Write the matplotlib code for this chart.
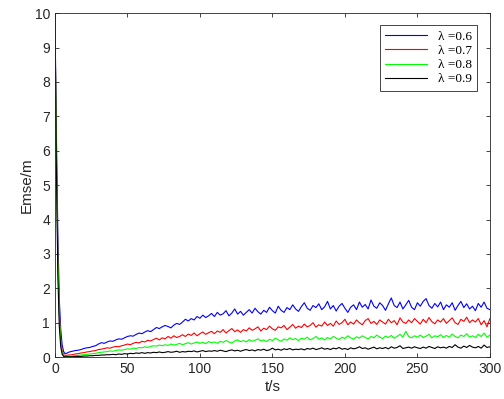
import numpy as np
import matplotlib
matplotlib.use('Agg')
import matplotlib.pyplot as plt

# time grid: 1 s steps for the first 10 s, then 2 s steps up to 300 s
t = np.concatenate([np.arange(0, 10), np.arange(10, 301, 2)])

lam_labels = ['λ =0.6', 'λ =0.7', 'λ =0.8', 'λ =0.9']

err_06 = [
    10, 6.5, 3.6, 1.7, 0.8, 0.35, 0.16, 0.10, 0.11, 0.13,
    0.15, 0.17, 0.19, 0.20, 0.22, 0.25, 0.27, 0.28, 0.31, 0.33,
    0.38, 0.42, 0.40, 0.44, 0.47, 0.46, 0.50, 0.53, 0.52, 0.56,
    0.60, 0.62, 0.61, 0.66, 0.70, 0.68, 0.73, 0.77, 0.74, 0.80,
    0.86, 0.83, 0.88, 0.92, 0.89, 0.85, 0.93, 0.98, 0.95, 1.02,
    1.10, 1.05, 1.12, 1.08, 1.18, 1.13, 1.22, 1.15, 1.20, 1.27,
    1.18, 1.30, 1.22, 1.26, 1.35, 1.20, 1.28, 1.40, 1.25, 1.33,
    1.22, 1.30, 1.38, 1.28, 1.42, 1.32, 1.25, 1.36, 1.30, 1.45,
    1.35, 1.28, 1.48, 1.36, 1.30, 1.44, 1.38, 1.52, 1.40, 1.33,
    1.47, 1.58, 1.42, 1.36, 1.50, 1.44, 1.55, 1.38, 1.46, 1.62,
    1.40, 1.50, 1.34, 1.48, 1.56, 1.42, 1.30, 1.45, 1.52, 1.38,
    1.60, 1.45, 1.53, 1.40, 1.66, 1.48, 1.42, 1.58, 1.50, 1.36,
    1.55, 1.72, 1.50, 1.44, 1.60, 1.40, 1.52, 1.65, 1.45, 1.38,
    1.58, 1.48, 1.62, 1.70, 1.50, 1.42, 1.56, 1.46, 1.60, 1.38,
    1.52, 1.45, 1.58, 1.36, 1.50, 1.62, 1.44, 1.55, 1.40, 1.48,
    1.35, 1.56, 1.45, 1.60, 1.42, 1.38,
]

err_07 = [
    10, 6.0, 3.0, 1.3, 0.5, 0.18, 0.07, 0.05, 0.05, 0.06,
    0.06, 0.07, 0.09, 0.10, 0.12, 0.13, 0.15, 0.16, 0.18, 0.19,
    0.22, 0.23, 0.25, 0.27, 0.26, 0.29, 0.31, 0.30, 0.33, 0.35,
    0.38, 0.36, 0.40, 0.43, 0.41, 0.46, 0.44, 0.49, 0.47, 0.51,
    0.55, 0.50, 0.56, 0.53, 0.60, 0.55, 0.62, 0.57, 0.60, 0.65,
    0.60, 0.67, 0.63, 0.70, 0.62, 0.68, 0.73, 0.66, 0.71, 0.75,
    0.68, 0.76, 0.72, 0.80, 0.70, 0.77, 0.83, 0.74, 0.79, 0.72,
    0.80, 0.76, 0.85, 0.78, 0.82, 0.88, 0.76, 0.84, 0.80, 0.90,
    0.82, 0.78, 0.88, 0.85, 0.92, 0.80, 0.87, 0.95, 0.84, 0.90,
    0.86, 0.96, 0.88, 0.92, 1.00, 0.87, 0.94, 0.90, 1.02, 0.92,
    0.98, 0.90, 1.05, 0.95, 1.00, 1.10, 0.94, 1.02, 0.96, 1.08,
    1.00, 0.94, 1.06, 1.12, 0.98, 1.04, 0.95, 1.08, 1.02, 0.96,
    1.10, 1.00, 1.06, 0.94, 1.14, 1.02, 0.98, 1.08, 1.00, 1.12,
    1.04, 0.96, 1.10, 1.00, 1.15, 1.03, 0.97, 1.08, 1.02, 1.12,
    0.98, 1.06, 1.14, 1.00, 0.95, 1.10, 1.04, 1.16, 1.00, 1.08,
    1.02, 1.12, 0.94, 1.06, 0.88, 1.12,
]

err_08 = [
    10, 5.8, 2.8, 1.2, 0.4, 0.12, 0.04, 0.02, 0.02, 0.02,
    0.02, 0.03, 0.04, 0.05, 0.06, 0.07, 0.08, 0.09, 0.10, 0.11,
    0.13, 0.14, 0.15, 0.16, 0.18, 0.17, 0.19, 0.21, 0.20, 0.22,
    0.24, 0.23, 0.26, 0.25, 0.28, 0.27, 0.30, 0.28, 0.31, 0.33,
    0.32, 0.35, 0.33, 0.36, 0.34, 0.38, 0.35, 0.37, 0.40, 0.36,
    0.39, 0.42, 0.38, 0.41, 0.44, 0.40, 0.43, 0.39, 0.45, 0.42,
    0.44, 0.40, 0.46, 0.43, 0.48, 0.44, 0.41, 0.47, 0.50, 0.45,
    0.48, 0.44, 0.51, 0.46, 0.49, 0.53, 0.47, 0.50, 0.45, 0.52,
    0.48, 0.55, 0.50, 0.46, 0.53, 0.49, 0.56, 0.51, 0.54, 0.48,
    0.55, 0.52, 0.58, 0.50, 0.54, 0.60, 0.52, 0.56, 0.50, 0.57,
    0.53, 0.60, 0.55, 0.51, 0.58, 0.54, 0.62, 0.56, 0.52, 0.59,
    0.55, 0.62, 0.57, 0.53, 0.60, 0.56, 0.64, 0.58, 0.54, 0.61,
    0.57, 0.63, 0.55, 0.60, 0.66, 0.58, 0.75, 0.60, 0.56, 0.62,
    0.58, 0.64, 0.57, 0.61, 0.66, 0.56, 0.62, 0.59, 0.65, 0.57,
    0.63, 0.58, 0.67, 0.60, 0.56, 0.64, 0.60, 0.68, 0.58, 0.62,
    0.57, 0.66, 0.60, 0.70, 0.58, 0.64,
]

err_09 = [
    10, 5.5, 2.4, 0.9, 0.3, 0.08, 0.02, 0.01, 0.01, 0.01,
    0.01, 0.01, 0.02, 0.02, 0.02, 0.03, 0.03, 0.04, 0.04, 0.05,
    0.05, 0.06, 0.06, 0.07, 0.07, 0.08, 0.07, 0.09, 0.08, 0.10,
    0.09, 0.11, 0.10, 0.12, 0.11, 0.13, 0.11, 0.13, 0.12, 0.14,
    0.13, 0.15, 0.13, 0.14, 0.16, 0.14, 0.15, 0.17, 0.14, 0.16,
    0.15, 0.17, 0.16, 0.18, 0.15, 0.17, 0.19, 0.16, 0.18, 0.17,
    0.19, 0.17, 0.20, 0.18, 0.16, 0.19, 0.21, 0.18, 0.20, 0.17,
    0.20, 0.22, 0.19, 0.21, 0.18, 0.22, 0.20, 0.23, 0.19, 0.21,
    0.26, 0.21, 0.23, 0.20, 0.24, 0.22, 0.25, 0.21, 0.23, 0.22,
    0.24, 0.21, 0.25, 0.23, 0.26, 0.22, 0.24, 0.27, 0.23, 0.25,
    0.22, 0.26, 0.24, 0.28, 0.23, 0.25, 0.22, 0.27, 0.24, 0.26,
    0.30, 0.25, 0.27, 0.23, 0.26, 0.29, 0.24, 0.27, 0.25, 0.28,
    0.24, 0.30, 0.26, 0.28, 0.33, 0.25, 0.27, 0.29, 0.26, 0.30,
    0.27, 0.25, 0.29, 0.26, 0.31, 0.28, 0.25, 0.30, 0.27, 0.29,
    0.26, 0.31, 0.28, 0.36, 0.29, 0.26, 0.32, 0.28, 0.34, 0.29,
    0.27, 0.31, 0.26, 0.35, 0.28, 0.30,
]

series = [err_06, err_07, err_08, err_09]
colors = ['#0000ff', '#ff0000', '#00ff00', '#000000']

plt.rcParams['font.family'] = ['Liberation Sans', 'DejaVu Sans']

fig = plt.figure(figsize=(5.04, 3.99), dpi=100)
ax = fig.add_axes([0.109, 0.105, 0.863, 0.862])

for y, c, lab in zip(series, colors, lam_labels):
    ax.plot(t, y, color=c, linewidth=0.8, label=lab)

ax.set_xlim(0, 300)
ax.set_ylim(0, 10)
ax.set_xticks(np.arange(0, 301, 50))
ax.set_yticks(np.arange(0, 11, 1))
ax.tick_params(direction='in', top=True, right=True, length=3,
               labelsize=10, colors='#262626', width=0.6)
for s in ax.spines.values():
    s.set_color('#262626')
    s.set_linewidth(0.6)

ax.set_xlabel('t/s', fontsize=11, color='#262626', labelpad=3)
ax.set_ylabel('Emse/m', fontsize=11, color='#262626', labelpad=1)

leg = ax.legend(loc='upper right', bbox_to_anchor=(0.970, 0.965),
                fancybox=False, framealpha=1, edgecolor='#262626',
                prop={'family': ['Liberation Serif', 'DejaVu Serif'], 'size': 9.5},
                handlelength=3.2, borderpad=0.4, labelspacing=0.15,
                handletextpad=0.8, borderaxespad=0)
leg.get_frame().set_linewidth(0.6)

fig.savefig('out.png', dpi=100)
